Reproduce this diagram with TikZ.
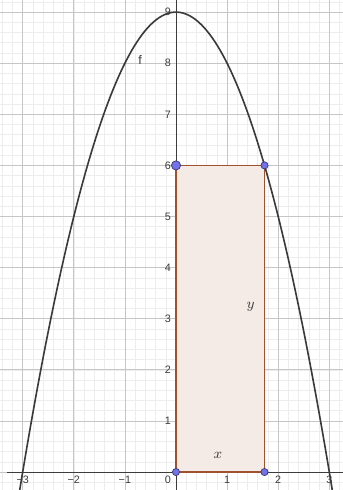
\documentclass[tikz,border=0pt]{standalone}
\usepackage{tikz}
\usepackage{xcolor}
\usepackage{fontspec}
\setsansfont{Liberation Sans}
\definecolor{gridMinor}{HTML}{EDEDED}
\definecolor{gridMajor}{HTML}{C6C6C6}
\definecolor{axisDark}{HTML}{3C3C3C}
\definecolor{curveDark}{HTML}{3A3A3A}
\definecolor{rectEdge}{HTML}{A0522D}
\definecolor{rectFill}{HTML}{F4EAE6}
\definecolor{pointBlue}{HTML}{7272EA}
\definecolor{pointEdge}{HTML}{3A3A70}
\tikzset{
  ticklabel/.style={font=\sffamily\fontsize{6}{7}\selectfont, text=axisDark, inner sep=1pt},
  varlabel/.style={font=\fontsize{8}{9}\selectfont, text=axisDark, inner sep=0pt},
  ptdot/.style={circle, fill=pointBlue, draw=pointEdge, line width=0.4pt, inner sep=0pt, minimum size=0.14cm},
}

\begin{document}
\begin{tikzpicture}
  \useasboundingbox (-3.444cm,-0.352cm) rectangle (3.268cm,9.237cm);
  \clip (-3.444cm,-0.352cm) rectangle (3.268cm,9.237cm);
  \draw[gridMinor, line width=0.3pt, step=0.2cm] (-3.6cm,-0.4cm) grid (3.4cm,9.4cm);
  \draw[gridMajor, line width=0.4pt, step=1cm] (-3.6cm,-0.4cm) grid (3.4cm,9.4cm);
  \draw[axisDark, line width=0.5pt] (-3.3cm,0cm) -- (3.3cm,0cm);
  \draw[axisDark, line width=0.5pt] (0cm,-0.4cm) -- (0cm,9.3cm);
  % tick labels
  \foreach \n/\t in {-3/−3,-2/−2,-1/−1,1/1,2/2,3/3}
    \node[ticklabel, anchor=north] (xt\n) at (\n cm,-0.04cm) {\t};
  \node[ticklabel, anchor=north east] (xt0) at (-0.06cm,-0.04cm) {0};
  \foreach \n in {1,...,9}
    \node[ticklabel, anchor=east] (yt\n) at (-0.06cm,\n cm) {\n};
  % rectangle
  \coordinate (O) at (0cm,0cm);
  \coordinate (A) at (1.7321cm,0cm);
  \coordinate (B) at (1.7321cm,6cm);
  \coordinate (C) at (0cm,6cm);
  \filldraw[fill=rectFill, draw=rectEdge, line width=0.9pt] (O) -- (A) -- (B) -- (C) -- cycle;
  % parabola
  \draw[curveDark, line width=0.9pt, domain=-3.12:3.12, samples=120] plot (\x, {9-\x*\x});
  \node[font=\sffamily\fontsize{7}{8}\selectfont, text=axisDark] (flab) at (-0.70cm,8.06cm) {f};
  \node[varlabel] (xlab) at (0.82cm,0.33cm) {$x$};
  \node[varlabel] (ylab) at (1.46cm,3.24cm) {$y$};
  % points
  \node[ptdot] (pO) at (O) {};
  \node[ptdot] (pA) at (A) {};
  \node[ptdot] (pB) at (B) {};
  \node[ptdot, minimum size=0.18cm] (pC) at (C) {};
\end{tikzpicture}
\end{document}
